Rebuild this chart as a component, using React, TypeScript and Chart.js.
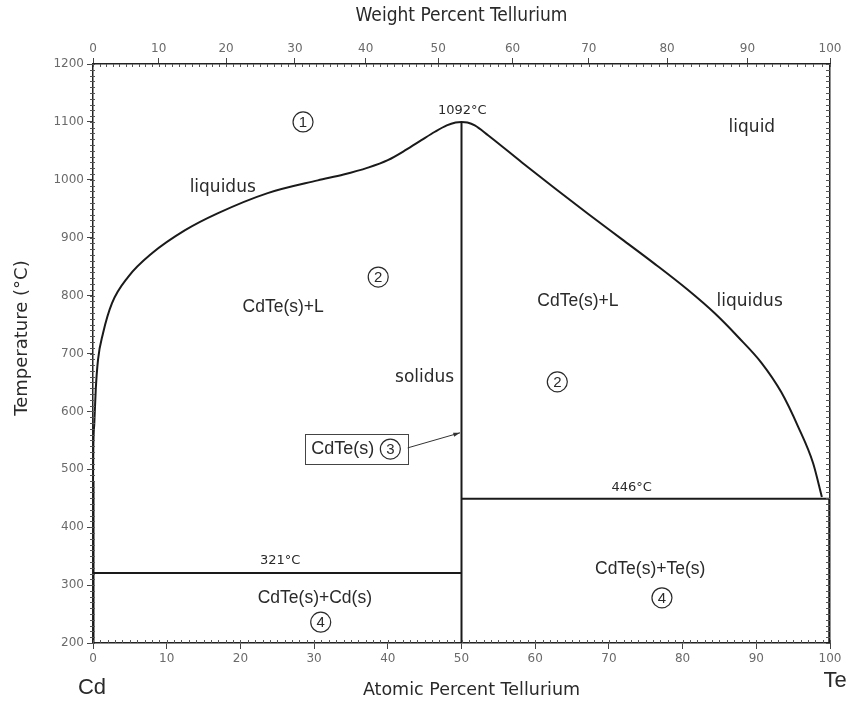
import React, { useEffect, useRef } from 'react';
import { Chart, registerables } from 'chart.js';

Chart.register(...registerables);

// ---- Data (atomic percent Te, temperature °C) ----
const liquidusAt = [0, 0.04, 0.18, 0.37, 0.68, 1.36, 2.58, 4.75, 8.0, 12.5, 16.9, 23.7, 30.5, 34, 37.3, 40, 42.5, 44.5, 46.4, 48, 49.2, 50,
  50.8, 51.8, 53.6, 58.2, 62.7, 67.2, 71.7, 76.3, 80.7, 84.4, 87.5, 90.7, 93.4, 95.7, 97.7, 98.9];
const liquidusT = [470, 533, 580, 637, 689, 735, 787, 832, 873, 913, 942, 977, 999, 1009, 1021, 1034, 1052, 1068, 1083, 1094, 1099, 1100,
  1099, 1094, 1077, 1030, 985, 941, 898, 854, 810, 769, 729, 684, 633, 573, 511, 452];

const solidusAt = [50, 50];
const solidusT = [200, 1100];

const cdEutecticAt = [0, 50];
const cdEutecticT = [321, 321];

const teEutecticAt = [50, 100];
const teEutecticT = [449, 449];

const teSolidAt = [100, 100];
const teSolidT = [200, 449];

const cdSolidAt = [0, 0];
const cdSolidT = [200, 480];

// ---- Axis ticks ----
const atomicTicks = [0, 10, 20, 30, 40, 50, 60, 70, 80, 90, 100];
const weightTicks = [0, 10, 20, 30, 40, 50, 60, 70, 80, 90, 100];
const tempTicks = [200, 300, 400, 500, 600, 700, 800, 900, 1000, 1100, 1200];

// ---- Text annotations (data coordinates) ----
const plainLabels = ['1092°C', 'liquid', 'liquidus', 'CdTe(s)+L', 'CdTe(s)+L', 'liquidus', 'solidus', '446°C', '321°C', 'CdTe(s)+Cd(s)', 'CdTe(s)+Te(s)'];
const plainLabelAt = [50.1, 89.4, 17.6, 25.8, 65.8, 89.1, 45.0, 73.1, 25.4, 30.1, 75.6];
const plainLabelT = [1119, 1091, 986, 780, 791, 789, 659, 468, 343, 278, 328];
const plainLabelKind = ['small', 'word', 'word', 'phase', 'phase', 'word', 'word', 'small', 'small', 'phase', 'phase'];

const circleDigits = ['1', '2', '2', '4', '4'];
const circleAt = [28.5, 38.7, 63.0, 30.9, 77.2];
const circleT = [1100, 832, 651, 236, 278];

const boxLabel = 'CdTe(s)';
const boxDigit = '3';
const boxAt = 33.9;
const boxT = 535;
const arrowFromAt = 42.7;
const arrowFromT = 537;
const arrowToAt = 49.8;
const arrowToT = 563;

const MCd = 112.41;
const MTe = 127.6;
function wtToAt(w: number): number {
  if (w <= 0) return 0;
  if (w >= 100) return 100;
  const nTe = w / MTe;
  const nCd = (100 - w) / MCd;
  return (100 * nTe) / (nTe + nCd);
}

const toPts = (xs: number[], ys: number[]) => xs.map((x, i) => ({ x, y: ys[i] }));

const LINE = '#1a1a1a';
const TEXT = '#2a2a2a';
const TICK = '#6a6a6a';

const fontFor: Record<string, string> = {
  small: '13px "DejaVu Sans"',
  word: '17px "DejaVu Sans"',
  phase: '17.5px "Liberation Sans"',
};

function drawCircleDigit(ctx: CanvasRenderingContext2D, x: number, y: number, d: string) {
  ctx.beginPath();
  ctx.arc(x, y, 10, 0, Math.PI * 2);
  ctx.lineWidth = 1.2;
  ctx.strokeStyle = TEXT;
  ctx.stroke();
  ctx.font = '15px "Liberation Sans"';
  ctx.fillStyle = TEXT;
  ctx.textAlign = 'center';
  ctx.textBaseline = 'middle';
  ctx.fillText(d, x, y + 1);
}

const phasePlugin = {
  id: 'phasePlugin',
  afterDraw(chart: any) {
    const ctx: CanvasRenderingContext2D = chart.ctx;
    const xs = chart.scales.x;
    const xt = chart.scales.x2;
    const ys = chart.scales.y;
    const { left, right, top, bottom } = chart.chartArea;
    ctx.save();

    // minor ticks
    ctx.strokeStyle = '#555';
    ctx.lineWidth = 1;
    ctx.beginPath();
    for (let a = 0; a <= 100; a++) {
      const px = Math.round(xs.getPixelForValue(a)) + 0.5;
      ctx.moveTo(px, bottom);
      ctx.lineTo(px, bottom - 3);
    }
    for (let w = 0; w <= 100; w++) {
      const px = Math.round(xt.getPixelForValue(wtToAt(w))) + 0.5;
      ctx.moveTo(px, top);
      ctx.lineTo(px, top + 3);
    }
    for (let t = 200; t <= 1200; t += 10) {
      const py = Math.round(ys.getPixelForValue(t)) + 0.5;
      ctx.moveTo(left - 3, py);
      ctx.lineTo(left + 2, py);
      ctx.moveTo(right, py);
      ctx.lineTo(right - 4, py);
    }
    ctx.stroke();

    // plain labels
    ctx.fillStyle = TEXT;
    ctx.textAlign = 'center';
    ctx.textBaseline = 'middle';
    plainLabels.forEach((s, i) => {
      ctx.font = fontFor[plainLabelKind[i]];
      ctx.fillText(s, xs.getPixelForValue(plainLabelAt[i]), ys.getPixelForValue(plainLabelT[i]));
    });

    // circled numbers
    circleDigits.forEach((d, i) => {
      drawCircleDigit(ctx, xs.getPixelForValue(circleAt[i]), ys.getPixelForValue(circleT[i]), d);
    });

    // boxed label
    const bx = xs.getPixelForValue(boxAt);
    const by = ys.getPixelForValue(boxT);
    ctx.font = '18px "Liberation Sans"';
    const tw = ctx.measureText(boxLabel).width;
    ctx.fillStyle = TEXT;
    ctx.textAlign = 'center';
    ctx.textBaseline = 'middle';
    ctx.fillText(boxLabel, bx, by);
    const cx = bx + tw / 2 + 16;
    drawCircleDigit(ctx, cx, by, boxDigit);
    ctx.lineWidth = 1;
    ctx.strokeStyle = '#444';
    ctx.strokeRect(Math.round(bx - tw / 2 - 6) + 0.5, Math.round(by - 15) + 0.5, Math.round(tw + 6 + 16 + 10 + 6 + 2), 30);

    // arrow
    const ax0 = xs.getPixelForValue(arrowFromAt);
    const ay0 = ys.getPixelForValue(arrowFromT);
    const ax1 = xs.getPixelForValue(arrowToAt);
    const ay1 = ys.getPixelForValue(arrowToT);
    ctx.beginPath();
    ctx.moveTo(ax0, ay0);
    ctx.lineTo(ax1, ay1);
    ctx.lineWidth = 1;
    ctx.strokeStyle = '#333';
    ctx.stroke();
    const ang = Math.atan2(ay1 - ay0, ax1 - ax0);
    ctx.beginPath();
    ctx.moveTo(ax1, ay1);
    ctx.lineTo(ax1 - 7 * Math.cos(ang - 0.3), ay1 - 7 * Math.sin(ang - 0.3));
    ctx.lineTo(ax1 - 7 * Math.cos(ang + 0.3), ay1 - 7 * Math.sin(ang + 0.3));
    ctx.closePath();
    ctx.fillStyle = '#333';
    ctx.fill();

    // axis titles and element names
    ctx.fillStyle = TEXT;
    ctx.textAlign = 'center';
    ctx.textBaseline = 'middle';
    ctx.font = '19px "DejaVu Sans Condensed", "DejaVu Sans"';
    ctx.fillText('Weight Percent Tellurium', (left + right) / 2, 16);
    ctx.font = '17.5px "DejaVu Sans"';
    ctx.fillText('Atomic Percent Tellurium', (left + right) / 2 + 10, 690);
    ctx.font = '22px "Liberation Sans"';
    ctx.fillText('Cd', left - 1, 688);
    ctx.fillText('Te', right + 5, 681);
    ctx.save();
    ctx.translate(22, 338);
    ctx.rotate(-Math.PI / 2);
    ctx.font = '18px "DejaVu Sans"';
    ctx.fillText('Temperature (°C)', 0, 0);
    ctx.restore();

    ctx.restore();
  },
};

export default function App() {
  const ref = useRef<HTMLCanvasElement | null>(null);
  useEffect(() => {
    if (!ref.current) return;
    const lineDs = (label: string, xs: number[], ys: number[], width: number, extra: any = {}) => ({
      label,
      data: toPts(xs, ys),
      showLine: true,
      borderColor: LINE,
      borderWidth: width,
      pointRadius: 0,
      fill: false,
      ...extra,
    });
    const tickFont = { family: '"DejaVu Sans"', size: 12 };
    const plain = (v: any) => String(v);
    const chart = new Chart(ref.current, {
      type: 'scatter',
      data: {
        datasets: [
          lineDs('liquidus', liquidusAt, liquidusT, 2, { cubicInterpolationMode: 'monotone' }),
          lineDs('solidus', solidusAt, solidusT, 2),
          lineDs('321', cdEutecticAt, cdEutecticT, 2),
          lineDs('446', teEutecticAt, teEutecticT, 2),
          lineDs('Te', teSolidAt, teSolidT, 3.5),
          lineDs('Cd', cdSolidAt, cdSolidT, 3),
        ],
      },
      options: {
        animation: false,
        responsive: false,
        events: [],
        layout: { padding: 0 },
        plugins: { legend: { display: false }, tooltip: { enabled: false } },
        scales: {
          x: {
            type: 'linear',
            position: 'bottom',
            min: 0,
            max: 100,
            afterBuildTicks: (s: any) => { s.ticks = atomicTicks.map((v) => ({ value: v })); },
            ticks: { color: TICK, font: tickFont, maxRotation: 0, autoSkip: false, padding: 3, callback: plain },
            grid: { drawOnChartArea: false, tickLength: 6, color: '#444' },
            border: { color: '#222', width: 1.5 },
            afterFit: (s: any) => { s.height = 63; },
          },
          x2: {
            type: 'linear',
            position: 'top',
            min: 0,
            max: 100,
            afterBuildTicks: (s: any) => { s.ticks = weightTicks.map((w) => ({ value: wtToAt(w) })); },
            ticks: {
              color: TICK, font: tickFont, maxRotation: 0, autoSkip: false, padding: 2,
              callback: (_v: any, i: number) => String(weightTicks[i]),
            },
            grid: { drawOnChartArea: false, tickLength: 6, color: '#444' },
            border: { color: '#222', width: 1.5 },
            afterFit: (s: any) => { s.height = 64; },
          },
          y: {
            type: 'linear',
            position: 'left',
            min: 200,
            max: 1200,
            afterBuildTicks: (s: any) => { s.ticks = tempTicks.map((v) => ({ value: v })); },
            ticks: { color: TICK, font: tickFont, autoSkip: false, padding: 3, callback: plain },
            grid: { drawOnChartArea: false, tickLength: 6, color: '#444' },
            border: { color: '#222', width: 1.5 },
            afterFit: (s: any) => { s.width = 93; },
          },
          y2: {
            type: 'linear',
            position: 'right',
            min: 200,
            max: 1200,
            ticks: { display: false },
            grid: { display: false, drawOnChartArea: false },
            border: { display: true, color: '#222', width: 1.5 },
            afterFit: (s: any) => { s.width = 18; },
          },
        },
      },
      plugins: [phasePlugin],
    } as any);
    return () => chart.destroy();
  }, []);
  return (
    <div style={{ position: 'fixed', left: 0, top: 0, width: 848, height: 706, background: '#fff' }}>
      <canvas ref={ref} width={848} height={706} />
    </div>
  );
}
